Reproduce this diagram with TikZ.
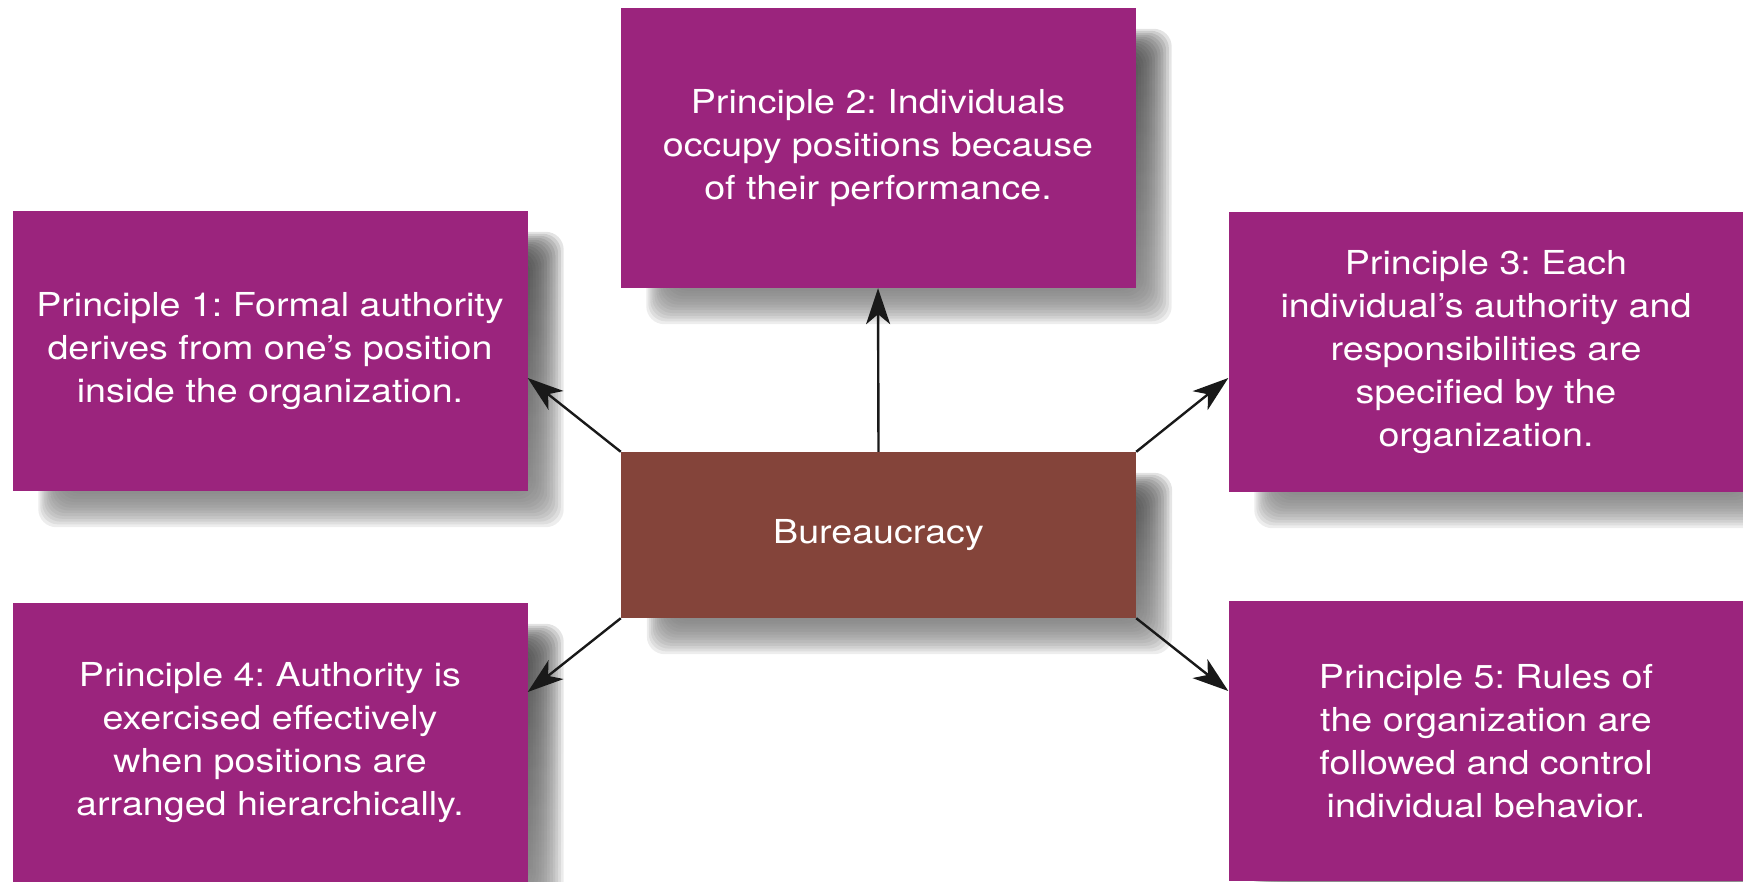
\documentclass[tikz,border=0pt]{standalone}
\usepackage{fontspec}
\setmainfont{TeX Gyre Heros}[FakeStretch=1.14]
\frenchspacing
\usetikzlibrary{arrows.meta}
\usetikzlibrary{calc}
\usetikzlibrary{backgrounds}
\definecolor{plum}{RGB}{155,36,125}
\definecolor{brick}{RGB}{132,68,58}
\definecolor{shade}{RGB}{70,76,90}

\begin{document}
\begin{tikzpicture}[%
        x = 1pt,
        y = -1pt,
        principle/.style = {rectangle, fill = plum, text = white, inner sep = 0pt,
            minimum width = 515pt, minimum height = 280pt, align = center,
            font = \fontsize{33}{43}\selectfont},
        core/.style = {principle, fill = brick, minimum height = 166pt},
        arr/.style = {line width = 2.4pt, black!90,
            -{Stealth[length = 36pt, width = 24pt, inset = 10pt]}},
        ]

\useasboundingbox[clip] (0,0) rectangle (1743,881);

\node (P2) [principle] at (878,148)
    {Principle 2: Individuals\\occupy positions because\\of their performance.};
\node (P1) [principle] at (270,351)
    {Principle 1: Formal authority\\derives from one's position\\inside the organization.};
\node (P3) [principle] at (1486,352)
    {Principle 3: Each\\individual's authority and\\responsibilities are\\specified by the\\organization.};
\node (P4) [principle] at (270,743)
    {Principle 4: Authority is\\exercised effectively\\when positions are\\arranged hierarchically.};
\node (P5) [principle] at (1486,741)
    {Principle 5: Rules of\\the organization are\\followed and control\\individual behavior.};

\node (B) [core] at (878.5,535) {Bureaucracy};

% soft drop shadows
\begin{scope}[on background layer]
\foreach \NAME in {P1,P2,P3,P4,P5,B}{%
    \foreach \k [evaluate = \k as \a using 2*\k,
                 evaluate = \k as \b using 36-2.8*\k] in {0,...,17}{%
        \fill[shade, opacity = 0.075, rounded corners = 18pt]
            ($(\NAME.north west)+(26+\a,21+\a)$) rectangle ($(\NAME.south east)+(\b,\b)$);
        }
    }
\end{scope}

\draw[arr] (B.north) -- (P2.south);
\draw[arr] (B.north west) -- ([yshift=-27pt]P1.east);
\draw[arr] (B.north east) -- ([yshift=-26pt]P3.west);
\draw[arr] (B.south west) -- ([yshift=51pt]P4.east);
\draw[arr] (B.south east) -- ([yshift=50pt]P5.west);

\end{tikzpicture}
\end{document}
